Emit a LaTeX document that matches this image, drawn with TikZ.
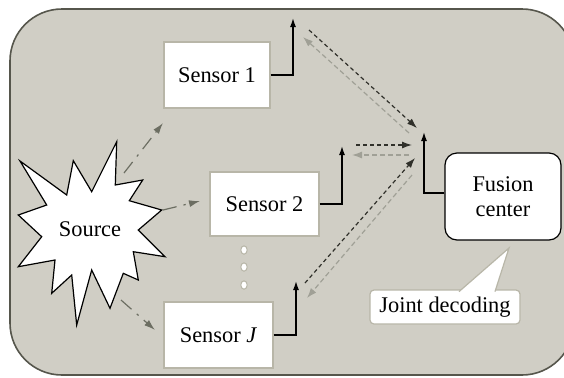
\documentclass[tikz,border=0pt]{standalone}
\usepackage{fontspec}
\setmainfont{Liberation Serif}
\usetikzlibrary{arrows.meta}
\definecolor{panel}{RGB}{208,206,197}
\definecolor{rim}{RGB}{86,86,76}
\definecolor{boxrim}{RGB}{184,182,168}
\definecolor{raycol}{RGB}{108,110,98}
\definecolor{fwdcol}{RGB}{48,48,42}
\definecolor{backcol}{RGB}{160,160,150}
\begin{document}
\begin{tikzpicture}[x=0.5pt, y=-0.5pt, every node/.style={font=\fontsize{11.2}{12.5}\selectfont},
  sensor/.style={draw=boxrim, fill=white, line width=0.6pt, minimum height=33pt, inner sep=0pt},
  fusion/.style={draw, fill=white, line width=0.6pt, rounded corners=6pt, minimum width=58pt, minimum height=43.5pt, align=center, inner sep=0pt},
  callout/.style={draw=boxrim, fill=white, line width=0.6pt, rounded corners=2pt, minimum width=75pt, minimum height=17pt, inner sep=0pt},
  riser/.style={line width=0.7pt, -{Latex[length=4.5pt,width=3pt]}},
  fwdarrow/.style={fwdcol, line width=0.6pt, dash pattern=on 2pt off 1.5pt, -{Latex[length=5pt,width=3.5pt]}},
  backarrow/.style={backcol, line width=0.6pt, dash pattern=on 2.5pt off 1.5pt, -{Latex[length=5pt,width=3.5pt]}},
  rayarrow/.style={raycol, line width=0.6pt, dash pattern=on 7pt off 3.5pt on 1.2pt off 3.5pt, -{Latex[length=5.5pt,width=3.5pt]}}]
  \clip (0,0) rectangle (564,377);
  \draw[rim, fill=panel, line width=0.8pt, rounded corners=26pt] (10,9) rectangle (574,375);
  \draw[fill=white, line width=0.6pt, line join=miter]
    (20,161) -- (66.7,195) -- (73.3,160.7) -- (91.7,191.7) -- (116.7,141.7) -- (115.3,185)
    -- (142.7,180) -- (129.3,200.7) -- (161.7,210) -- (138.3,230) -- (165,256.7) -- (133.3,251.7)
    -- (138.3,280) -- (123.3,273.3) -- (110,308.3) -- (91.7,270) -- (76.7,325) -- (71.7,275)
    -- (51.7,293.3) -- (55,260) -- (18.3,266.7) -- (41.7,236.7) -- (18.3,215) -- (46.7,205) -- cycle;
  \node (src) at (90,229) {Source};
  \node[sensor, minimum width=53pt] (s1) at (217,75) {Sensor 1};
  \node[sensor, minimum width=54.5pt, minimum height=32pt] (s2) at (264.5,204) {Sensor 2};
  \node[sensor, minimum width=54.5pt] (sJ) at (218.5,335) {Sensor \textit{J}};
  \node[fusion] (fc) at (503,196.5) {Fusion\\center};
  \node[callout] (jd) at (445,307) {Joint decoding};
  \filldraw[boxrim, fill=white, line width=0.6pt] (459,291.6) -- (509,248) -- (495,291.6);
  \foreach \y in {250,267,285}
    \draw[boxrim, fill=white, line width=0.5pt] (244,\y) ellipse [x radius=1.6pt, y radius=2.1pt];

  \coordinate (r1a) at (124,173); \coordinate (r1b) at (163,123);
  \coordinate (r2a) at (163,210); \coordinate (r2b) at (200,201);
  \coordinate (r3a) at (121,300); \coordinate (r3b) at (155,330);
  \draw[rayarrow] (r1a) -- (r1b);
  \draw[rayarrow] (r2a) -- (r2b);
  \draw[rayarrow] (r3a) -- (r3b);

  \coordinate (t1) at (293,18);
  \coordinate (t2) at (342,146);
  \coordinate (tJ) at (296,281);
  \coordinate (tf) at (424,132);
  \draw[riser] (s1.east) -| (t1);
  \draw[riser] (s2.east) -| (t2);
  \draw[riser] (sJ.east) -| (tJ);
  \draw[riser] ([yshift=1.75pt]fc.west) -| (tf);

  \coordinate (u1a) at (309,30);  \coordinate (u1b) at (417,128);
  \coordinate (d1a) at (409,133); \coordinate (d1b) at (303,37);
  \coordinate (u2a) at (356,145); \coordinate (u2b) at (412,145);
  \coordinate (d2a) at (409,155); \coordinate (d2b) at (352,155);
  \coordinate (u3a) at (305,283); \coordinate (u3b) at (415,158);
  \coordinate (d3a) at (412,175); \coordinate (d3b) at (307,298);
  \draw[fwdarrow] (u1a) -- (u1b);
  \draw[backarrow] (d1a) -- (d1b);
  \draw[fwdarrow] (u2a) -- (u2b);
  \draw[backarrow] (d2a) -- (d2b);
  \draw[fwdarrow] (u3a) -- (u3b);
  \draw[backarrow] (d3a) -- (d3b);
\end{tikzpicture}
\end{document}
